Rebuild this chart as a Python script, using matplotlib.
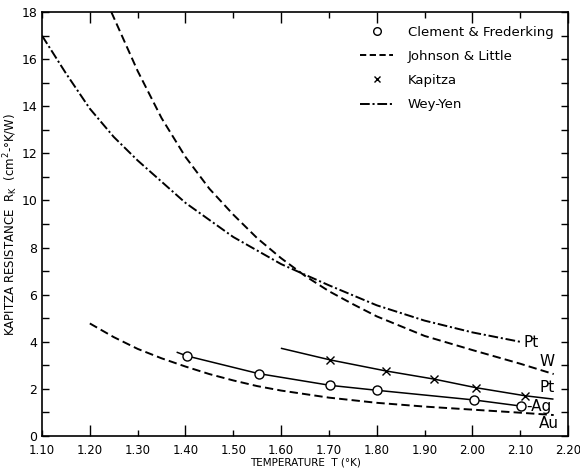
import matplotlib
matplotlib.use('Agg')
import matplotlib.pyplot as plt
from matplotlib.ticker import MultipleLocator, FormatStrFormatter, NullFormatter

plt.rcParams['font.family'] = ['DejaVu Sans']
plt.rcParams['lines.scale_dashes'] = False

# Wey-Yen, Pt (dash-dot)
wy_T = [1.10, 1.15, 1.20, 1.25, 1.30, 1.35, 1.40, 1.50, 1.60, 1.70, 1.80, 1.90, 2.00, 2.10]
wy_R = [17.0, 15.4, 13.9, 12.7, 11.7, 10.8, 9.9, 8.45, 7.3, 6.4, 5.55, 4.9, 4.4, 4.0]

# Johnson & Little, W (dashed)
jw_T = [1.245, 1.30, 1.35, 1.40, 1.45, 1.50, 1.55, 1.60, 1.65, 1.70, 1.75, 1.80, 1.90, 2.00, 2.10, 2.17]
jw_R = [18.0, 15.5, 13.5, 11.85, 10.5, 9.4, 8.4, 7.55, 6.8, 6.15, 5.6, 5.08, 4.25, 3.65, 3.07, 2.63]

# Johnson & Little, Au (dashed)
ja_T = [1.20, 1.25, 1.30, 1.35, 1.40, 1.45, 1.50, 1.55, 1.60, 1.70, 1.80, 1.90, 2.00, 2.10, 2.17]
ja_R = [4.78, 4.2, 3.7, 3.3, 2.95, 2.63, 2.36, 2.12, 1.93, 1.63, 1.41, 1.25, 1.12, 0.99, 0.89]

# Kapitza, Pt (line + x)
kp_line_T = [1.601, 1.703, 1.820, 1.919, 2.008, 2.110, 2.168]
kp_line_R = [3.72, 3.23, 2.76, 2.42, 2.05, 1.71, 1.57]
kp_T = [1.703, 1.820, 1.919, 2.008, 2.110]
kp_R = [3.23, 2.76, 2.42, 2.05, 1.71]

# Clement & Frederking, Ag (line + o)
cf_line_T = [1.383, 1.403, 1.553, 1.703, 1.801, 2.004, 2.102]
cf_line_R = [3.55, 3.40, 2.65, 2.15, 1.94, 1.53, 1.27]
cf_T = [1.403, 1.553, 1.703, 1.801, 2.004, 2.102]
cf_R = [3.40, 2.65, 2.15, 1.94, 1.53, 1.27]

fig = plt.figure(figsize=(5.8, 4.7), dpi=100)
ax = fig.add_axes([0.0724, 0.0723, 0.907, 0.902])

lw = 1.4
dash = (6, 3)
dashdot = (7, 2, 1.5, 2)

ax.plot(wy_T, wy_R, color='black', lw=lw, dashes=dashdot)
ax.plot(jw_T, jw_R, color='black', lw=lw, dashes=dash)
ax.plot(ja_T, ja_R, color='black', lw=lw, dashes=dash)
ax.plot(kp_line_T, kp_line_R, color='black', lw=1.1)
ax.plot(kp_T, kp_R, ls='none', marker='x', ms=6, mew=1.0, color='black')
ax.plot(cf_line_T, cf_line_R, color='black', lw=1.1)
ax.plot(cf_T, cf_R, ls='none', marker='o', ms=6.5, mew=1.0, mfc='white', mec='black')

# curve labels
lab = dict(fontsize=11, va='center', ha='left')
ax.text(2.106, 3.98, 'Pt', **lab)
ax.text(2.14, 3.18, 'W', **lab)
ax.text(2.14, 2.08, 'Pt', **lab)
ax.text(2.112, 1.27, '-Ag', **lab)
ax.text(2.14, 0.55, 'Au', **lab)

# legend
h_cf, = ax.plot([], [], ls='none', marker='o', ms=5.5, mew=1.0, mfc='white', mec='black')
h_jl, = ax.plot([], [], color='black', lw=lw, dashes=(4.5, 2.5))
h_kp, = ax.plot([], [], ls='none', marker='x', ms=5, mew=1.0, color='black')
h_wy, = ax.plot([], [], color='black', lw=lw, dashes=(7, 2, 1.5, 2))
ax.legend([h_cf, h_jl, h_kp, h_wy],
          ['Clement & Frederking', 'Johnson & Little', 'Kapitza', 'Wey-Yen'],
          loc='upper left', bbox_to_anchor=(0.605, 0.968), frameon=False,
          fontsize=9.5, handlelength=2.5, handletextpad=1.1, labelspacing=0.85,
          borderpad=0, borderaxespad=0)

ax.set_xlim(1.10, 2.20)
ax.set_ylim(0, 18)

ax.xaxis.set_major_locator(MultipleLocator(0.2))
ax.xaxis.set_minor_locator(MultipleLocator(0.1))
ax.xaxis.set_major_formatter(FormatStrFormatter('%.2f'))
ax.xaxis.set_minor_formatter(FormatStrFormatter('%.2f'))
ax.yaxis.set_major_locator(MultipleLocator(2))
ax.yaxis.set_minor_locator(MultipleLocator(1))
ax.yaxis.set_minor_formatter(NullFormatter())

ax.tick_params(which='both', direction='in', top=True, right=True, width=1.0)
ax.tick_params(axis='x', which='major', length=8, labelsize=8.5, pad=5.5)
ax.tick_params(axis='x', which='minor', length=4.5, labelsize=8.5, pad=5.5)
ax.tick_params(axis='y', which='both', length=5, labelsize=9, pad=3.5)

for s in ax.spines.values():
    s.set_linewidth(1.2)

ax.set_xlabel('TEMPERATURE  T (°K)', fontsize=7.5, labelpad=0.5)
ax.set_ylabel('KAPITZA RESISTANCE  R$_\\mathregular{K}$  (cm$^\\mathregular{2}$-°K/W)', fontsize=8.5, labelpad=1)

fig.savefig('out.png', dpi=100)
